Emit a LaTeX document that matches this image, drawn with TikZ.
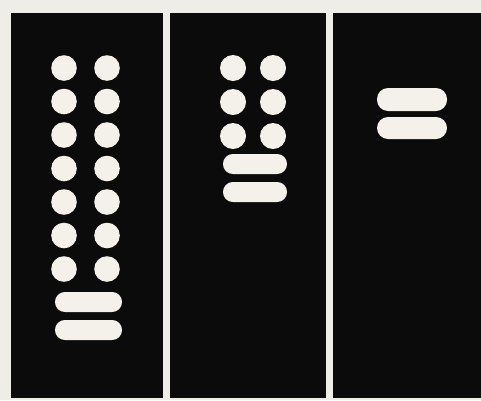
\documentclass[tikz,border=0pt]{standalone}
\begin{document}
\begin{tikzpicture}[x=1pt,y=-1pt,
  panel/.style={fill=panelblack,draw=none},
  dot/.style={fill=dotwhite,draw=none},
  bar/.style={fill=dotwhite,draw=none,rounded corners=9.9pt}]
\definecolor{bgcream}{HTML}{EFEDE7}
\definecolor{panelblack}{HTML}{0B0B0C}
\definecolor{dotwhite}{HTML}{F3F1EA}
\useasboundingbox (0,0) rectangle (481,400);
\fill[bgcream] (0,0) rectangle (481,400);
% panels
\path[panel] (11,13) rectangle (163,398);
\path[panel] (170,13) rectangle (326,398);
\path[panel] (333,13) rectangle (481,398);
% panel 1 dots
\foreach \y in {68,101.5,135,168.5,202,235.5,269}{
  \path[dot] (64,\y) circle (12.8);
  \path[dot] (107,\y) circle (12.8);
}
\path[bar] (55,292) rectangle (122,312);
\path[bar] (55,320) rectangle (122,340);
% panel 2 dots
\foreach \y in {68,102,136}{
  \path[dot] (233,\y) circle (13);
  \path[dot] (273,\y) circle (13);
}
\path[bar] (223,154) rectangle (287,174);
\path[bar] (223,182) rectangle (287,202);
% panel 3 bars
\path[bar,rounded corners=11pt] (377,88) rectangle (447,111);
\path[bar,rounded corners=11pt] (377,117) rectangle (447,139);
\end{tikzpicture}
\end{document}
